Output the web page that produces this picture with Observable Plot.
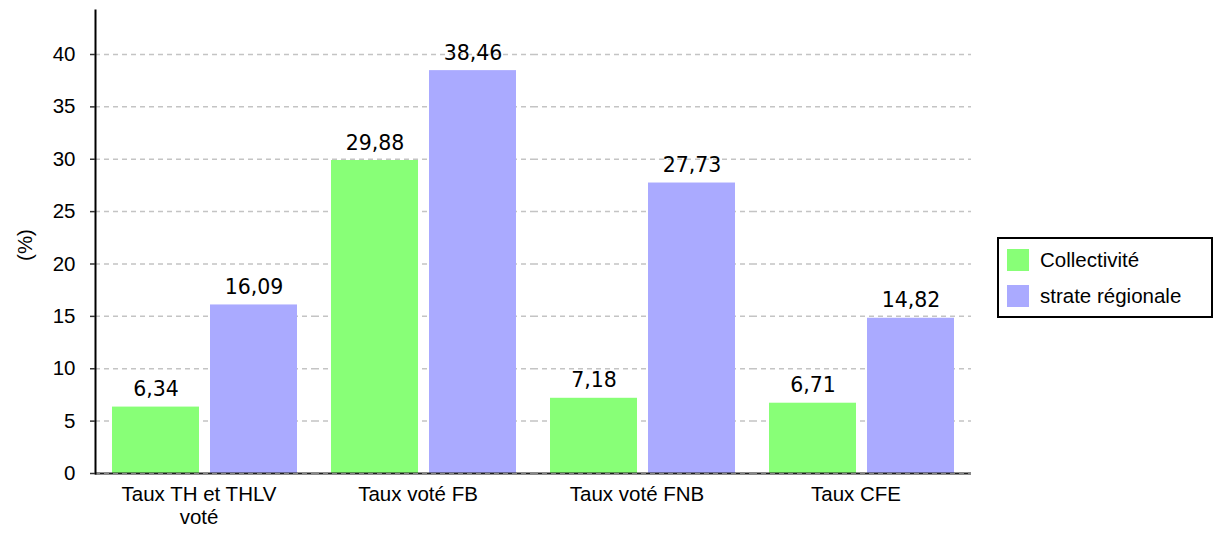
<!DOCTYPE html>
<html>
<head>
<meta charset="utf-8">
<script src="https://cdn.jsdelivr.net/npm/d3@7"></script>
<script src="https://cdn.jsdelivr.net/npm/@observablehq/plot@0.6"></script>
<style>
  html, body { margin: 0; padding: 0; background: #fff; }
  #wrap { position: relative; width: 1218px; height: 533px; overflow: hidden; }
  #chart { position: absolute; left: 0; top: 0; }
  #ylabel { position: absolute; left: 25px; top: 245px; transform: translate(-50%, -50%) rotate(-90deg);
            font-family: "Liberation Sans", Arial, sans-serif; font-size: 20.5px; color: #000; white-space: nowrap; }
  #legend { position: absolute; left: 997px; top: 237px; width: 216px; border: 2px solid #000; background: #fff;
            padding: 10px 0 9px 8px; box-sizing: border-box; font-family: "Liberation Sans", Arial, sans-serif; font-size: 20.5px; }
  #legend .row { display: flex; align-items: center; height: 22px; }
  #legend .row + .row { margin-top: 14px; }
  #legend .sw { width: 22px; height: 22px; margin-right: 11px; flex: none; }
</style>
</head>
<body>
<div id="wrap">
  <div id="chart"></div>
  <div id="ylabel">(%)</div>
  <div id="legend"></div>
</div>
<script>
const categories = ["Taux TH et THLV voté", "Taux voté FB", "Taux voté FNB", "Taux CFE"];
const tickLabels = ["Taux TH et THLV\nvoté", "Taux voté FB", "Taux voté FNB", "Taux CFE"];
const seriesNames = ["Collectivité", "strate régionale"];
const collectivite = [6.34, 29.88, 7.18, 6.71];
const strateRegionale = [16.09, 38.46, 27.73, 14.82];
const seriesColors = ["#88ff77", "#aaaaff"];
const yTicks = [0, 5, 10, 15, 20, 25, 30, 35, 40];

const seriesValues = [collectivite, strateRegionale];
const data = categories.flatMap((c, i) =>
  seriesNames.map((s, j) => ({ category: c, series: s, value: seriesValues[j][i] }))
);
const fmt = v => d3.format(".2f")(v).replace(".", ",");

const chart = Plot.plot({
  width: 990,
  height: 533,
  marginLeft: 93,
  marginRight: 18,
  marginTop: 10,
  marginBottom: 60,
  style: { fontFamily: "'Liberation Sans', Arial, sans-serif", fontSize: "20.5px", background: "white", color: "#000" },
  fx: { domain: categories, padding: 0, label: null, axis: null },
  x: { domain: seriesNames, paddingInner: 0.115, paddingOuter: 0.165, axis: null },
  y: { domain: [0, 44.2], label: null, axis: null },
  color: { domain: seriesNames, range: seriesColors },
  marks: [
    Plot.gridY(yTicks, { stroke: "#c4c4c4", strokeOpacity: 1, strokeWidth: 1.5, strokeDasharray: "5,4" }),
    Plot.barY(data, { fx: "category", x: "series", y: "value", fill: "series" }),
    Plot.ruleY([0], { stroke: "#222", strokeWidth: 2 }),
    Plot.gridY([0], { stroke: "#888", strokeOpacity: 1, strokeWidth: 1, strokeDasharray: "5,4" }),
    Plot.frame({ anchor: "left", facetAnchor: "left", stroke: "#000", strokeWidth: 2 }),
    Plot.axisY(yTicks, { tickSize: 5, tickPadding: 15, strokeWidth: 1.5, stroke: "#333", fontSize: 20.5, label: null }),
    Plot.axisFx({ anchor: "bottom", tickSize: 0, tickPadding: 11, fontSize: 20.5, lineHeight: 1.12, dx: -6, label: null,
                  tickFormat: d => tickLabels[categories.indexOf(d)] }),
    Plot.text(data, { fx: "category", x: "series", y: "value", text: d => fmt(d.value),
                      dy: -11, lineAnchor: "bottom", fontFamily: "'DejaVu Sans', sans-serif", fontSize: 20.5, fill: "#000" })
  ]
});
document.getElementById("chart").appendChild(chart);

const legend = document.getElementById("legend");
seriesNames.forEach((s, i) => {
  const row = document.createElement("div");
  row.className = "row";
  const sw = document.createElement("span");
  sw.className = "sw";
  sw.style.background = seriesColors[i];
  const label = document.createElement("span");
  label.textContent = s;
  row.appendChild(sw);
  row.appendChild(label);
  legend.appendChild(row);
});
</script>
</body>
</html>
